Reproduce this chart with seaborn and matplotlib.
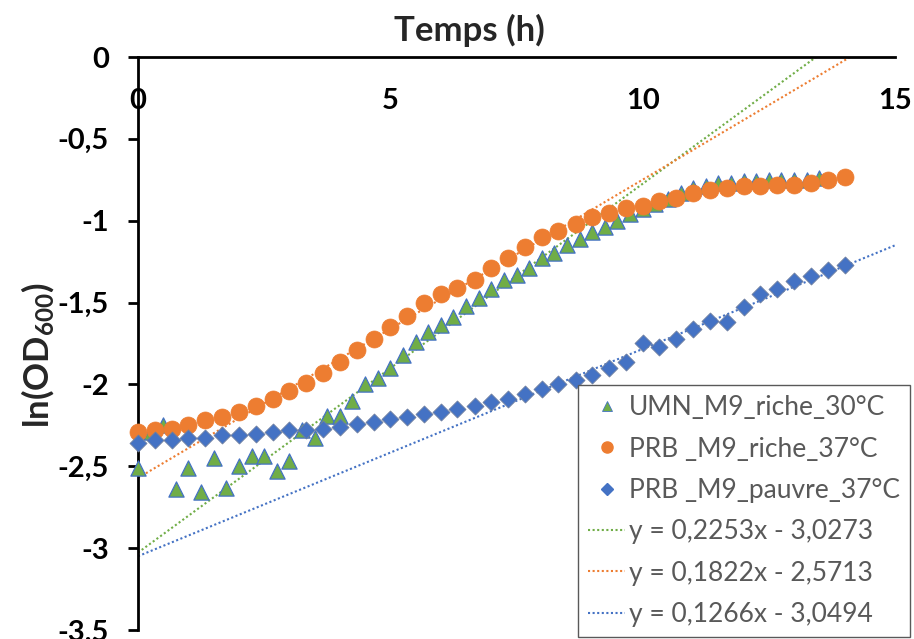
import numpy as np
import pandas as pd
import seaborn as sns
import matplotlib.pyplot as plt
from matplotlib.lines import Line2D

sns.set_theme(style="white")
plt.rcParams["font.family"] = ["Lato", "DejaVu Sans"]
plt.rcParams["mathtext.fontset"] = "custom"
plt.rcParams["mathtext.rm"] = "Lato:bold"
plt.rcParams["mathtext.it"] = "Lato:bold"
plt.rcParams["mathtext.bf"] = "Lato:bold"

# Growth curves, ln(OD600) vs time (h)
t_umn = [0, 0.25, 0.5, 0.75, 1, 1.25, 1.5, 1.75, 2, 2.25, 2.5, 2.75, 3, 3.25,
         3.5, 3.75, 4, 4.25, 4.5, 4.75, 5, 5.25, 5.5, 5.75, 6, 6.25, 6.5, 6.75,
         7, 7.25, 7.5, 7.75, 8, 8.25, 8.5, 8.75, 9, 9.25, 9.5, 9.75, 10, 10.25,
         10.5, 10.75, 11, 11.25, 11.5, 11.75, 12, 12.25, 12.5, 12.75, 13, 13.25, 13.5]
umn_riche_30 = [-2.51, -2.29, -2.25, -2.64, -2.51, -2.66, -2.45, -2.63, -2.50, -2.44,
                -2.44, -2.53, -2.47, -2.28, -2.33, -2.19, -2.19, -2.10, -2.00, -1.96,
                -1.90, -1.82, -1.74, -1.68, -1.64, -1.59, -1.52, -1.47, -1.42, -1.36,
                -1.33, -1.29, -1.23, -1.20, -1.15, -1.11, -1.07, -1.04, -1.00, -0.96,
                -0.93, -0.90, -0.87, -0.83, -0.80, -0.79, -0.77, -0.77, -0.76, -0.76,
                -0.75, -0.75, -0.75, -0.75, -0.74]

t_prb = [0, 0.33, 0.67, 1, 1.33, 1.67, 2, 2.33, 2.67, 3, 3.33, 3.67, 4, 4.33, 4.67,
         5, 5.33, 5.67, 6, 6.33, 6.67, 7, 7.33, 7.67, 8, 8.33, 8.67, 9, 9.33, 9.67,
         10, 10.33, 10.67, 11, 11.33, 11.67, 12, 12.33, 12.67, 13, 13.33, 13.67, 14]
prb_riche_37 = [-2.29, -2.28, -2.27, -2.25, -2.22, -2.20, -2.17, -2.13, -2.09, -2.04,
                -1.99, -1.93, -1.86, -1.79, -1.72, -1.65, -1.58, -1.50, -1.45, -1.41,
                -1.36, -1.29, -1.23, -1.16, -1.10, -1.06, -1.02, -0.98, -0.95, -0.92,
                -0.91, -0.88, -0.86, -0.83, -0.81, -0.80, -0.79, -0.79, -0.78, -0.78,
                -0.77, -0.75, -0.73]
prb_pauvre_37 = [-2.36, -2.34, -2.34, -2.33, -2.33, -2.31, -2.31, -2.30, -2.29, -2.28,
                 -2.28, -2.27, -2.26, -2.24, -2.23, -2.21, -2.20, -2.18, -2.17, -2.15,
                 -2.13, -2.11, -2.09, -2.06, -2.03, -2.00, -1.97, -1.94, -1.90, -1.86,
                 -1.75, -1.77, -1.72, -1.66, -1.61, -1.62, -1.53, -1.45, -1.42, -1.37,
                 -1.34, -1.30, -1.27]

series_names = ["UMN_M9_riche_30°C", "PRB _M9_riche_37°C", "PRB _M9_pauvre_37°C"]
# linear trendlines (slope, intercept) shown in the legend
fit_slopes = [0.2253, 0.1822, 0.1266]
fit_intercepts = [-3.0273, -2.5713, -3.0494]

x_ticks = [0, 5, 10, 15]
y_ticks = [-3.5, -3, -2.5, -2, -1.5, -1, -0.5, 0]

green, orange, blue = "#70AD47", "#ED7D31", "#4472C4"
colours = [green, orange, blue]

fig = plt.figure(figsize=(9.14, 6.39), dpi=100)
ax = fig.add_axes([138/914, 9/639, 757/914, 573/639])

# Trendlines over the whole x range
x_fit = [0, 15]
for slope, icpt, col in zip(fit_slopes, fit_intercepts, colours):
    sns.lineplot(x=x_fit, y=[icpt + slope*x for x in x_fit], color=col,
                 linestyle=(0, (1, 1.2)), linewidth=1.5, ax=ax, zorder=2)

# Data points
sns.scatterplot(x=t_umn, y=umn_riche_30, marker="^", s=120, color=green,
                edgecolor=blue, linewidth=0.9, ax=ax, clip_on=False, zorder=3)
sns.scatterplot(x=t_prb, y=prb_riche_37, marker="o", s=150, color=orange,
                edgecolor=orange, linewidth=0.5, ax=ax, clip_on=False, zorder=4)
sns.scatterplot(x=t_prb, y=prb_pauvre_37, marker="D", s=75, color=blue,
                edgecolor="#6f7f9f", linewidth=0.6, ax=ax, clip_on=False, zorder=5)

ax.set_xlim(0, 15)
ax.set_ylim(-3.5, 0)

# x axis sits at y = 0 (top), ticks pointing up, labels underneath
ax.spines["bottom"].set_position(("data", 0))
ax.spines["top"].set_visible(False)
ax.spines["right"].set_visible(False)
for side in ["bottom", "left"]:
    ax.spines[side].set_color("black")
    ax.spines[side].set_linewidth(2)

ax.set_xticks(x_ticks, [str(v) for v in x_ticks], fontsize=21, fontweight="bold")
ax.set_yticks(y_ticks, [("%g" % v).replace(".", ",") for v in y_ticks],
              fontsize=21, fontweight="bold")
ax.tick_params(axis="x", direction="in", length=7, width=2, pad=22, colors="black")
ax.tick_params(axis="y", direction="out", length=7, width=2, pad=14, colors="black", left=True)
ax.set_xlabel(None)
ax.set_ylabel(None)

fig.text(469/914, 1 - 30/639, "Temps (h)", ha="center", va="center",
         fontsize=25, fontweight="bold")
fig.text(38/914, 1 - 355/639, "ln(OD$_{600}$)", rotation=90, ha="center",
         va="center", fontsize=25, fontweight="bold")

# Legend
handles = [
    Line2D([], [], linestyle="none", marker="^", markersize=7.5, color=green, markeredgecolor=blue, markeredgewidth=0.6),
    Line2D([], [], linestyle="none", marker="o", markersize=8, color=orange),
    Line2D([], [], linestyle="none", marker="D", markersize=6.5, color=blue),
]
labels = list(series_names)
for slope, icpt, col in zip(fit_slopes, fit_intercepts, colours):
    handles.append(Line2D([], [], color=col, linestyle=(0, (1, 1.2)), linewidth=1.5))
    labels.append(("y = %.4fx - %.4f" % (slope, abs(icpt))).replace(".", ","))

leg = fig.legend(handles, labels, loc="lower right", bbox_to_anchor=(910/914, 2/639),
                 bbox_transform=fig.transFigure, fontsize=19, frameon=True,
                 fancybox=False, edgecolor="#595959", framealpha=1,
                 borderaxespad=0, borderpad=0.38, labelspacing=0.62,
                 handlelength=1.4, handletextpad=0.15, numpoints=1)
leg.get_frame().set_linewidth(1)
for txt in leg.get_texts():
    txt.set_color("#595959")

plt.savefig("out.png", dpi=100)
plt.close()
